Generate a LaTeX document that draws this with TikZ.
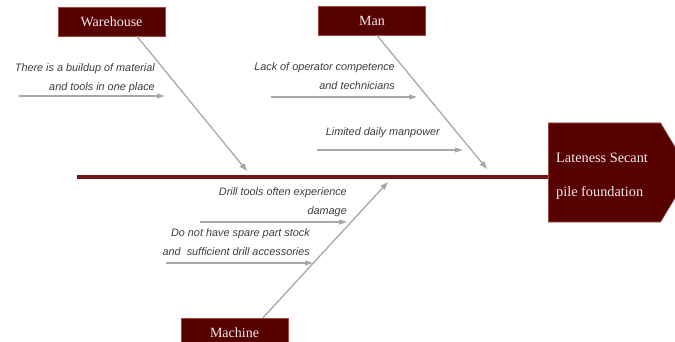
\documentclass[tikz,border=0pt]{standalone}
\usepackage{fontspec}
\setmainfont{Liberation Serif}
\newfontfamily\causefont{Liberation Sans}
\usetikzlibrary{arrows.meta,shapes.symbols}
\definecolor{boxfill}{HTML}{560000}
\definecolor{boxedge}{HTML}{9C4A3A}
\definecolor{spinecol}{HTML}{761414}
\definecolor{arrowgray}{HTML}{A8A8A8}
\definecolor{textgray}{HTML}{3C3C3C}
\definecolor{labelwhite}{HTML}{F4ECEC}
\tikzset{
  catbox/.style={draw=boxedge, line width=0.6pt, fill=boxfill, text=labelwhite,
    minimum width=107pt, minimum height=29pt, inner sep=0pt,
    font=\fontsize{14pt}{16pt}\selectfont},
  causetext/.style={anchor=east, align=right, inner sep=0pt, text=textgray,
    font=\causefont\itshape\fontsize{10.85pt}{19pt}\selectfont},
  bone/.style={draw=arrowgray, line width=1.3pt, -{Triangle[length=8pt,width=5.5pt]}},
  subbone/.style={draw=arrowgray, line width=1.1pt, -{Triangle[length=8pt,width=5pt]}},
  spine/.style={draw=spinecol, line width=4pt},
  headbox/.style={signal, signal to=east, signal pointer angle=118,
    draw=boxedge, line width=0.6pt, fill=boxfill,
    minimum width=142pt, minimum height=99pt, inner sep=0pt, anchor=west}
}
\begin{document}
\begin{tikzpicture}[x=1pt,y=-1pt]
\useasboundingbox (0,0) rectangle (675,342);
% head
\node[headbox] (head) at (548,172.5) {};
\node[anchor=west, align=left, inner sep=0pt, text=labelwhite,
  font=\fontsize{14.3pt}{34pt}\selectfont] (headtext) at (556,176)
  {Lateness Secant\\pile foundation};
% spine
\coordinate (spinestart) at (77,177);
\draw[spine] (spinestart) -- (head.west |- spinestart);
% category boxes
\node[catbox] (warehouse) at (111.5,21.5) {Warehouse};
\node[catbox] (man) at (372,20.5) {Man};
\node[catbox] (machine) at (234.5,332.5) {Machine};
% main bones
\coordinate (wend) at (247,171);
\coordinate (mend) at (487,169);
\coordinate (cend) at (388,182);
\draw[bone] (warehouse.south -| 137,0) -- (wend);
\draw[bone] (man.south -| 377,0) -- (mend);
\draw[bone] (machine.north -| 263,0) -- (cend);
% causes - warehouse
\node[causetext] (c1) at (155,78.5) {There is a buildup of material\\and tools in one place};
\coordinate (c1s) at (19,96); \coordinate (c1e) at (165,96);
\draw[subbone] (c1s) -- (c1e);
% causes - man
\node[causetext] (c2) at (395,76.5) {Lack of operator competence\\and technicians};
\coordinate (c2s) at (271,97); \coordinate (c2e) at (417,97);
\draw[subbone] (c2s) -- (c2e);
\node[causetext] (c3) at (440,133) {Limited daily manpower};
\coordinate (c3s) at (317,150); \coordinate (c3e) at (463,150);
\draw[subbone] (c3s) -- (c3e);
% causes - machine
\node[causetext] (c4) at (347,202.5) {Drill tools often experience\\damage};
\coordinate (c4s) at (200,222); \coordinate (c4e) at (347,222);
\draw[subbone] (c4s) -- (c4e);
\node[causetext] (c5) at (310,242) {Do not have spare part stock\\and\ \ sufficient drill accessories};
\coordinate (c5s) at (166,263); \coordinate (c5e) at (313,263);
\draw[subbone] (c5s) -- (c5e);
\end{tikzpicture}
\end{document}
